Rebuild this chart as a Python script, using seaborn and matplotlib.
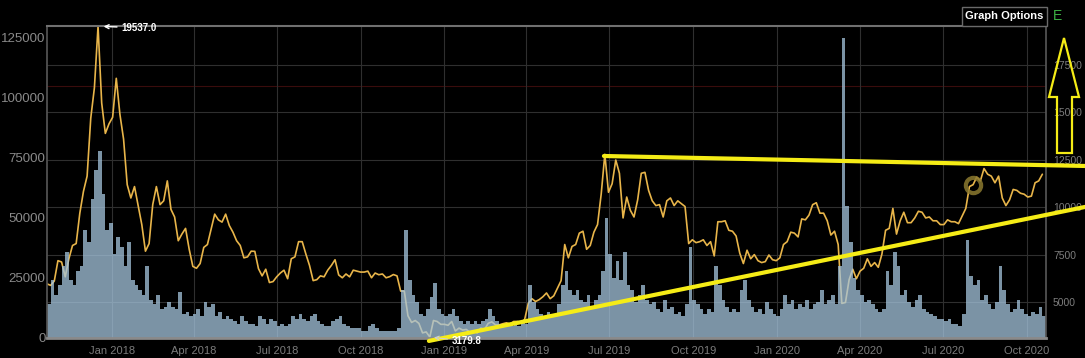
import numpy as np
import pandas as pd
import matplotlib
matplotlib.use("Agg")
import matplotlib.pyplot as plt
import matplotlib.dates as mdates
from matplotlib.patches import Polygon, Rectangle
from matplotlib.lines import Line2D
import seaborn as sns

# one sample every 4 days, starting 2017-10-22
start_date = "2017-10-22"

price = [
    5980, 5900, 6130, 7200, 7130, 6350, 7300,
    8000, 8100, 9700, 10850, 11650, 14700, 16300,
    19537.0, 15500, 13900, 14400, 14750, 16800, 14900,
    13600, 11200, 10500, 11100, 10100, 9100, 7700,
    8100, 10150, 11100, 10150, 10350, 11400, 9900,
    9500, 8250, 8600, 8900, 7800, 6900, 6800,
    7050, 7900, 8050, 8850, 9650, 9350, 9230,
    9650, 9050, 8700, 8250, 8000, 7350, 7400,
    7700, 7690, 6780, 6400, 6750, 6050, 6100,
    6350, 6550, 6700, 6250, 7300, 7400, 8200,
    8200, 7550, 6950, 6150, 6200, 6400, 6350,
    6700, 6950, 7250, 6450, 6300, 6500, 6350,
    6700, 6650, 6600, 6600, 6650, 6300, 6550,
    6460, 6500, 6300, 6360, 6470, 6400, 5600,
    5600, 4300, 3950, 4050, 3900, 3400, 3450,
    3179.8, 4050, 4000, 3850, 3850, 3800, 4000,
    3500, 3650, 3550, 3580, 3430, 3500, 3400,
    3650, 3580, 3900, 3980, 3820, 3820, 3880,
    3930, 3870, 4000, 4000, 3950, 4100, 4950,
    5200, 5050, 5150, 5300, 5500, 5200, 5350,
    5750, 6150, 8050, 7350, 7950, 8050, 8650,
    8750, 7800, 8000, 8700, 9100, 10700, 12800,
    10800, 11250, 12500, 11800, 9450, 10550, 9850,
    9500, 10400, 11800, 11850, 10900, 10350, 10100,
    10150, 9500, 10350, 10500, 10100, 10350, 10200,
    10050, 8100, 8300, 8150, 8200, 8300, 8000,
    8200, 7450, 9250, 9250, 9300, 8800, 8750,
    8500, 7600, 7050, 7750, 7300, 7520, 7200,
    7100, 7150, 7500, 7250, 7200, 7350, 8050,
    8200, 8700, 8650, 8450, 9400, 9350, 9600,
    10150, 10250, 9700, 9700, 9300, 8550, 8750,
    8050, 4950, 5000, 6200, 6750, 6250, 6650,
    6800, 7300, 6900, 7100, 6850, 7550, 8800,
    8900, 9950, 8600, 9300, 9750, 9200, 9200,
    9450, 9800, 9750, 9450, 9500, 9300, 9300,
    9100, 9100, 9350, 9250, 9250, 9150, 9550,
    9950, 11100, 11200, 11600, 11400, 12050, 11750,
    11650, 11300, 11650, 10500, 10100, 10400, 10950,
    10900, 10750, 10700, 10550, 10600, 11300, 11400,
    11750,
]

volume = [
    14, 24, 18, 22, 30, 36, 24,
    22, 28, 30, 45, 40, 58, 70,
    78, 60, 45, 48, 35, 42, 38,
    30, 40, 24, 22, 20, 18, 30,
    16, 14, 18, 12, 13, 15, 13,
    12, 19, 10, 11, 9, 10, 12,
    9, 15, 13, 14, 9, 11, 8,
    9, 8, 7, 6, 9, 7, 6,
    6, 5, 9, 8, 6, 8, 7,
    5, 6, 5, 6, 9, 8, 10,
    8, 7, 9, 10, 7, 6, 5,
    5, 7, 8, 9, 6, 5, 4,
    4, 4, 3, 3, 5, 6, 4,
    3, 3, 3, 3, 3, 4, 20,
    45, 24, 18, 15, 10, 9, 12,
    17, 23, 12, 10, 9, 10, 12,
    9, 7, 6, 7, 6, 7, 6,
    7, 8, 12, 9, 7, 6, 6,
    6, 5, 6, 5, 7, 6, 22,
    15, 12, 10, 9, 11, 9, 10,
    14, 22, 28, 20, 18, 20, 16,
    15, 18, 13, 16, 18, 28, 50,
    35, 25, 32, 24, 36, 22, 20,
    15, 18, 22, 16, 14, 15, 12,
    11, 16, 12, 13, 10, 11, 9,
    14, 38, 16, 14, 12, 10, 12,
    11, 30, 22, 16, 13, 11, 12,
    11, 20, 24, 16, 13, 11, 12,
    10, 15, 12, 10, 9, 12, 18,
    14, 16, 12, 14, 13, 16, 12,
    14, 15, 20, 14, 16, 18, 14,
    30, 125, 55, 40, 25, 20, 18,
    15, 16, 14, 12, 11, 12, 28,
    22, 36, 30, 18, 20, 15, 13,
    16, 18, 12, 11, 10, 9, 8,
    8, 7, 8, 6, 6, 5, 10,
    41, 26, 22, 24, 16, 18, 14,
    12, 15, 30, 20, 14, 11, 12,
    16, 12, 10, 9, 11, 10, 13, 9,
]
volume = [v * 1000 for v in volume]

# trend lines drawn on the chart (date, price)
upper_trend = [("2019-06-25", 12710), ("2020-12-04", 12185)]
lower_trend = [("2018-12-15", 2975), ("2020-12-04", 10030)]

price_ticks = [5000, 7500, 10000, 12500, 15000, 17500]
volume_ticks = [0, 25000, 50000, 75000, 100000, 125000]

dates = pd.date_range(start_date, periods=len(price), freq="4D")
df = pd.DataFrame({"date": dates, "price": price, "volume": volume})

W, H = 1085, 358
sns.set_theme(style="dark")
plt.rcParams["font.family"] = ["Liberation Sans", "DejaVu Sans"]

fig = plt.figure(figsize=(W / 100, H / 100), dpi=100, facecolor="black")
ax = fig.add_axes([47 / W, 20 / H, 999 / W, 312 / H])
ax.set_facecolor("black")

# price (right axis), drawn underneath the volume bars
sns.lineplot(data=df, x="date", y="price", ax=ax, color="#e8b54a", lw=1.2)
ax.axhline(16400, color="#3a0c0c", lw=0.8, zorder=0)
ax.plot(df["date"][254], df["price"][254], "o", ms=11, mfc="none",
        mec="#8c7a30", mew=3, alpha=0.85)

# volume (left axis), on top with transparency
ax2 = ax.twinx()
ax2.bar(mdates.date2num(df["date"]), df["volume"], width=4, align="edge",
        color="#a5c5de", alpha=0.75, lw=0)

ax.set_ylim(3130, 19553)
ax.yaxis.set_ticks_position("right")
ax.yaxis.set_label_position("right")
ax.set_yticks(price_ticks)
ax.tick_params(axis="y", colors="#7d7d7d", labelsize=7.5, length=0, pad=5,
               left=False, labelleft=False, right=True, labelright=True)
ax.tick_params(axis="x", colors="#7b7b7b", labelsize=8, length=0, pad=6)
ax.xaxis.set_major_locator(mdates.MonthLocator(bymonth=[1, 4, 7, 10]))
ax.xaxis.set_major_formatter(mdates.DateFormatter("%b %Y"))
ax.set_xlim(pd.Timestamp("2017-10-22"), pd.Timestamp("2020-10-22"))
ax.grid(True, color="#2f2f2f", lw=0.8)
ax.set_xlabel("")
ax.set_ylabel("")
for s in ax.spines.values():
    s.set_visible(False)

ax2.set_ylim(0, 130000)
ax2.yaxis.set_ticks_position("left")
ax2.set_yticks(volume_ticks)
ax2.tick_params(axis="y", colors="#8a8a8a", labelsize=9.5, length=0, pad=1,
                right=False, labelright=False, left=True, labelleft=True)
ax2.grid(False)
ax2.set_ylabel("")
ax2.spines["bottom"].set_color("#8a8a8a")
ax2.spines["bottom"].set_linewidth(2)
ax2.spines["top"].set_color("#707070")
ax2.spines["top"].set_linewidth(1.5)
ax2.spines["left"].set_color("#555555")
ax2.spines["right"].set_color("#555555")

# yellow trend lines, in price coordinates, over everything
for pts in (upper_trend, lower_trend):
    xs = mdates.date2num(pd.to_datetime([p[0] for p in pts]))
    ys = [p[1] for p in pts]
    ax2.add_line(Line2D(xs, ys, transform=ax.transData, color="#f5ec16",
                        lw=3, clip_on=False, zorder=5))

# peak / trough labels
imax = int(np.argmax(price))
imin = int(np.argmin(price))
ax2.annotate(f"{price[imax]:.1f}", xy=(mdates.date2num(dates[imax]), price[imax]),
             xycoords=ax.transData, xytext=(17, -1), textcoords="offset points",
             color="white", fontsize=7, fontweight="bold", va="center",
             annotation_clip=False,
             arrowprops=dict(arrowstyle="->", color="white", lw=1, shrinkA=1, shrinkB=4))
ax2.annotate(f"{price[imin]:.1f}", xy=(mdates.date2num(dates[imin]), price[imin]),
             xycoords=ax.transData, xytext=(16, -3), textcoords="offset points",
             color="white", fontsize=7, fontweight="bold", va="center",
             annotation_clip=False, zorder=6,
             arrowprops=dict(arrowstyle="->", color="#cfcfcf", lw=0.8, shrinkA=1, shrinkB=3))

# "Graph Options" button
fig.patches.append(Rectangle((962 / W, 1 - 26 / H), 85 / W, 19 / H,
                             transform=fig.transFigure, facecolor="black",
                             edgecolor="#6a6a6a", lw=1))
fig.text(1004.5 / W, 1 - 16 / H, "Graph Options", color="white", fontsize=8,
         fontweight="bold", ha="center", va="center")
fig.text(1053 / W, 1 - 16 / H, "E", color="#3cb043", fontsize=10,
         ha="left", va="center")

# hollow up-arrow at the right
arrow_px = [(1064, 38), (1079, 97), (1072, 97), (1072, 153), (1057, 153),
            (1057, 97), (1049, 97)]
fig.patches.append(Polygon([(x / W, 1 - y / H) for x, y in arrow_px], closed=True,
                           transform=fig.transFigure, facecolor="none",
                           edgecolor="#f5ec16", lw=1.6))

fig.savefig("out.png", dpi=100, facecolor="black")
